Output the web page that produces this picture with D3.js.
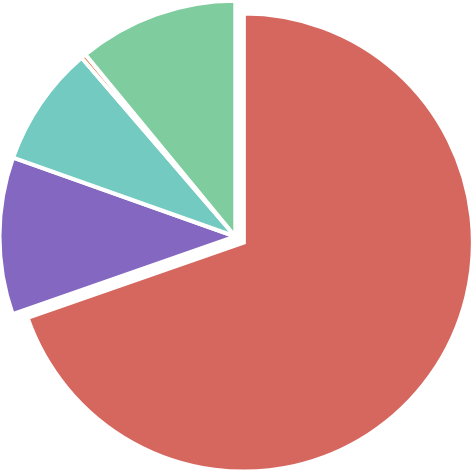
<!DOCTYPE html>
<html>
<head>
<meta charset="utf-8">
<script src="https://cdn.jsdelivr.net/npm/d3@7"></script>
<style>
  body { margin: 0; background: #fff; }
</style>
</head>
<body>
<script>
let labels = ['A', 'B', 'C', 'D', 'E'];
let values = [69.9, 10.8, 8.3, 0.34, 11.0];
let colors = ['#d6675e', '#8467c1', '#72cac1', '#e0773f', '#7fcd9e'];

let width = 476, height = 476;
let cx = 235.3, cy = 236.5;
let radius = 235.8, explodedRadius = 229, explodeBy = 10.5;

let svg = d3.select('body').append('svg')
    .attr('width', width)
    .attr('height', height)

let pie = d3.pie().sort(null).value(d => d.value)
let arcs = pie(labels.map((l, i) => ({label: l, value: values[i], color: colors[i]})))

let arc = d3.arc().innerRadius(0).outerRadius(radius)
let bigArc = d3.arc().innerRadius(0).outerRadius(explodedRadius)

let g = svg.append('g').attr('transform', 'translate(' + cx + ',' + cy + ')')

// first slice is pulled out along its middle angle
g.selectAll('path')
    .data(arcs)
    .enter()
    .append('path')
    .attr('d', (d, i) => i == 0 ? bigArc(d) : arc(d))
    .attr('fill', d => d.data.color)
    .attr('stroke', '#fff')
    .attr('stroke-width', 4)
    .attr('stroke-linejoin', 'miter')
    .attr('transform', (d, i) => {
        if (i != 0) return null;
        let mid = (d.startAngle + d.endAngle) / 2;
        return 'translate(' + (Math.sin(mid) * explodeBy) + ',' + (-Math.cos(mid) * explodeBy) + ')'
    })
</script>
</body>
</html>
